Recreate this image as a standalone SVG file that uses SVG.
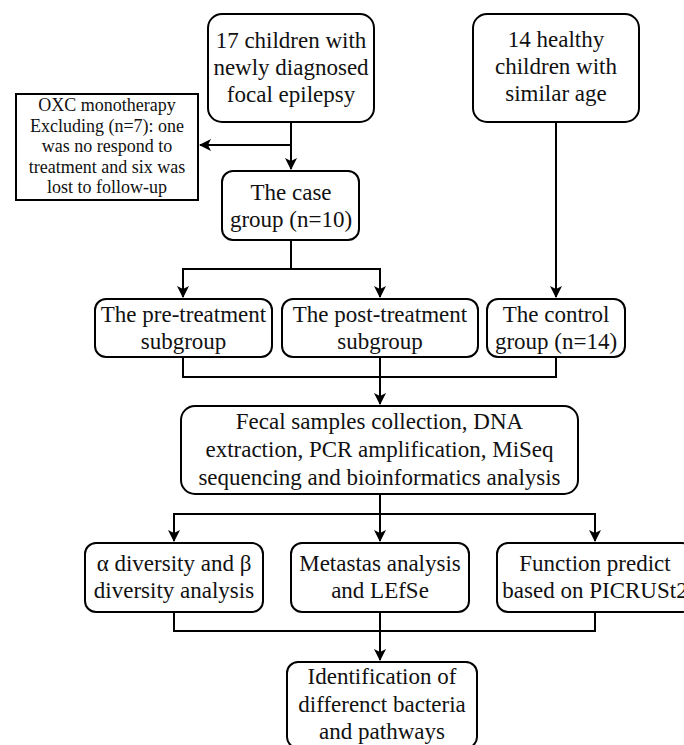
<svg xmlns="http://www.w3.org/2000/svg" width="684" height="745" viewBox="0 0 684 745">
<defs>
<marker id="ah" viewBox="0 0 12 12" refX="11" refY="6" markerWidth="12" markerHeight="12" markerUnits="userSpaceOnUse" orient="auto">
<path d="M0,0 L12,6 L0,12 L3,6 Z" fill="#000"/>
</marker>
<style>
.box{fill:#fff;stroke:#000;stroke-width:2}
.lbl{font-family:'Liberation Serif',serif;font-size:23px;fill:#111;text-anchor:middle}
.sm{font-family:'Liberation Serif',serif;font-size:18px;fill:#111;text-anchor:middle}
.c{fill:none;stroke:#000;stroke-width:2}
</style>
</defs>
<rect width="684" height="745" fill="#fff"/>
<g id="connectors">
<path class="c" d="M291,122 V169" marker-end="url(#ah)"/>
<path class="c" d="M291,145 H200" marker-end="url(#ah)"/>
<path class="c" d="M291,240 V269 H183 V297" marker-end="url(#ah)"/>
<path class="c" d="M291,269 H380 V297" marker-end="url(#ah)"/>
<path class="c" d="M556,122 V297" marker-end="url(#ah)"/>
<path class="c" d="M183,357 V377 H556 V357"/>
<path class="c" d="M380,357 V404" marker-end="url(#ah)"/>
<path class="c" d="M380,494 V514"/>
<path class="c" d="M380,514 H174 V541" marker-end="url(#ah)"/>
<path class="c" d="M380,514 V541" marker-end="url(#ah)"/>
<path class="c" d="M380,514 H595 V541" marker-end="url(#ah)"/>
<path class="c" d="M174,612 V631 H595 V612"/>
<path class="c" d="M380,612 V660" marker-end="url(#ah)"/>
</g>
<g id="n_children" font-family="Liberation Serif, serif">
<rect class="box" x="208" y="14" width="166" height="108" rx="14"/>
<text class="lbl" x="291" y="48">17 children with</text>
<text class="lbl" x="291" y="75">newly diagnosed</text>
<text class="lbl" x="291" y="102">focal epilepsy</text>
</g>
<g id="n_healthy" font-family="Liberation Serif, serif">
<rect class="box" x="473" y="14" width="166" height="108" rx="14"/>
<text class="lbl" x="556" y="47">14 healthy</text>
<text class="lbl" x="556" y="74">children with</text>
<text class="lbl" x="556" y="101">similar age</text>
</g>
<g id="n_excluded" font-family="Liberation Serif, serif">
<rect class="box" x="16" y="94" width="182" height="106"/>
<text class="sm" x="107" y="111">OXC monotherapy</text>
<text class="sm" x="107" y="131.5">Excluding (n=7): one</text>
<text class="sm" x="107" y="152">was no respond to</text>
<text class="sm" x="107" y="172.5">treatment and six was</text>
<text class="sm" x="107" y="193">lost to follow-up</text>
</g>
<g id="n_case" font-family="Liberation Serif, serif">
<rect class="box" x="222" y="171" width="137" height="69" rx="11"/>
<text class="lbl" x="291" y="200">The case</text>
<text class="lbl" x="291" y="227">group (n=10)</text>
</g>
<g id="n_pre" font-family="Liberation Serif, serif">
<rect class="box" x="95" y="299" width="177" height="58" rx="11"/>
<text class="lbl" x="183.5" y="322">The pre-treatment</text>
<text class="lbl" x="183.5" y="349">subgroup</text>
</g>
<g id="n_post" font-family="Liberation Serif, serif">
<rect class="box" x="282" y="299" width="196" height="58" rx="11"/>
<text class="lbl" x="380" y="322">The post-treatment</text>
<text class="lbl" x="380" y="349">subgroup</text>
</g>
<g id="n_control" font-family="Liberation Serif, serif">
<rect class="box" x="487" y="299" width="138" height="58" rx="11"/>
<text class="lbl" x="556" y="322">The control</text>
<text class="lbl" x="556" y="349">group (n=14)</text>
</g>
<g id="n_fecal" font-family="Liberation Serif, serif">
<rect class="box" x="181" y="406" width="397" height="88" rx="14"/>
<text class="lbl" x="379.5" y="429">Fecal samples collection, DNA</text>
<text class="lbl" x="379.5" y="457">extraction, PCR amplification, MiSeq</text>
<text class="lbl" x="379.5" y="485">sequencing and bioinformatics analysis</text>
</g>
<g id="n_alpha" font-family="Liberation Serif, serif">
<rect class="box" x="85" y="543" width="178" height="69" rx="11"/>
<text class="lbl" x="174" y="571">α diversity and β</text>
<text class="lbl" x="174" y="598">diversity analysis</text>
</g>
<g id="n_metastas" font-family="Liberation Serif, serif">
<rect class="box" x="291" y="543" width="178" height="69" rx="11"/>
<text class="lbl" x="380" y="571">Metastas analysis</text>
<text class="lbl" x="380" y="598">and LEfSe</text>
</g>
<g id="n_function" font-family="Liberation Serif, serif">
<rect class="box" x="497" y="543" width="196" height="69" rx="11"/>
<text class="lbl" x="595" y="571">Function predict</text>
<text class="lbl" x="595" y="598">based on PICRUSt2</text>
</g>
<g id="n_ident" font-family="Liberation Serif, serif">
<rect class="box" x="287" y="662" width="190" height="86" rx="11"/>
<text class="lbl" x="382" y="684">Identification of</text>
<text class="lbl" x="382" y="712">differenct bacteria</text>
<text class="lbl" x="382" y="739">and pathways</text>
</g>
</svg>
